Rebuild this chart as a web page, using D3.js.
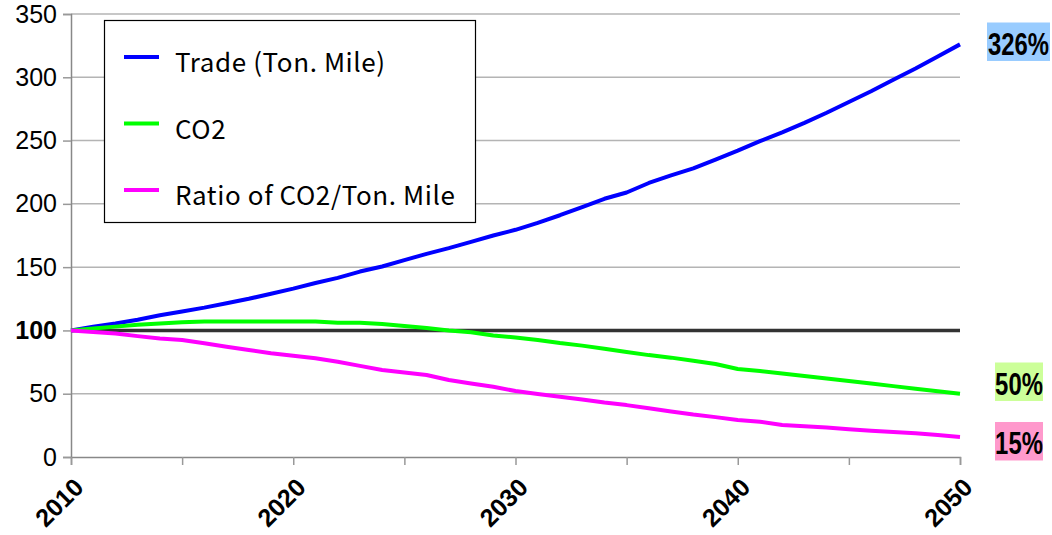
<!DOCTYPE html>
<html>
<head>
<meta charset="utf-8">
<script src="https://cdn.jsdelivr.net/npm/d3@7"></script>
<style>
html,body{margin:0;padding:0;background:#fff;}
svg{display:block;}
</style>
</head>
<body>
<svg id="chart" width="1052" height="535"></svg>
<script>
const years = d3.range(2010, 2051);
const trade = [100,103,105.5,108.5,112,115,118,121.5,125,129,133,137.5,141.5,146.5,150.5,155.5,160.5,165,170,175,179.5,185,191,197.5,204,209,216.5,222.5,228,235,242,249.5,256.5,264,272,280.5,289,298,307,316.5,326];
const co2 = [100,101.5,103,104.5,105.5,106.5,107,107,107,107,107,107,106,106,105,103.5,102,100,98.5,96,94.5,92.5,90,88,85.5,83,80.5,78.5,76,73.5,69.5,68,66,64,62,60,58,56,54,52,50];
const ratio = [100,98.8,97.6,95.5,93.7,92.4,89.8,87.1,84.5,82,80,78,75.3,72,68.7,66.8,64.8,60.8,58,55.5,52.1,49.8,47.6,45.5,43,41,38.5,36,33.5,31.5,29.2,27.9,25.3,24.3,23.4,22,20.8,19.7,18.7,17.3,15.8];
const yTicks = [0,50,100,150,200,250,300,350];
const xLabelYears = [2010,2020,2030,2040,2050];
const xTickYears = [2010,2015,2020,2025,2030,2035,2040,2045,2050];
const seriesNames = ["Trade (Ton. Mile)", "CO2", "Ratio of CO2/Ton. Mile"];
const seriesColors = ["#0000ff", "#00ff00", "#ff00ff"];
const endLabels = ["326%", "50%", "15%"];
const endLabelColors = ["#99ccff", "#ccff99", "#ff99cc"];
const baseline = 100;

const svg = d3.select("#chart");
const x = d3.scaleLinear().domain([2010, 2050]).range([71, 960]);
const y = d3.scaleLinear().domain([0, 350]).range([457, 14]);

// gridlines
svg.append("g").selectAll("line").data(yTicks.filter(d => d !== 0 && d !== baseline)).join("line")
  .attr("x1", x(2010)).attr("x2", x(2050))
  .attr("y1", d => y(d)).attr("y2", d => y(d))
  .attr("stroke", "#b4b4b4").attr("stroke-width", 1.5);

// y axis
const yAxis = svg.append("g").attr("transform", `translate(${x(2010)},0)`)
  .call(d3.axisLeft(y).tickValues(yTicks).tickSize(8).tickPadding(6));
yAxis.select(".domain").attr("stroke", "#888").attr("stroke-width", 1.5);
yAxis.selectAll(".tick line").attr("stroke", "#999").attr("stroke-width", 1.5);
yAxis.selectAll(".tick text")
  .attr("font-family", "'Liberation Sans', Arial, sans-serif")
  .attr("font-size", 25).attr("fill", "#000")
  .attr("font-weight", d => d === baseline ? "bold" : "normal");

// x axis
const xAxis = svg.append("g").attr("transform", `translate(0,${y(0)})`)
  .call(d3.axisBottom(x).tickValues(xTickYears).tickSize(8).tickFormat(""));
xAxis.select(".domain").attr("stroke", "#888").attr("stroke-width", 1.5);
xAxis.selectAll(".tick line").attr("stroke", "#999").attr("stroke-width", 1.5);
svg.append("g").selectAll("text").data(xLabelYears).join("text")
  .attr("transform", d => `translate(${x(d) + 14},${y(0) + 32}) rotate(-45)`)
  .attr("text-anchor", "end")
  .attr("font-family", "'Liberation Sans', Arial, sans-serif")
  .attr("font-weight", "bold").attr("font-size", 25).attr("fill", "#000")
  .text(d => d);

// baseline 100
svg.append("line")
  .attr("x1", x(2010)).attr("x2", x(2050))
  .attr("y1", y(baseline)).attr("y2", y(baseline))
  .attr("stroke", "#333").attr("stroke-width", 3.5);

// series
const line = d3.line().x((d, i) => x(years[i])).y(d => y(d));
[trade, co2, ratio].forEach((s, i) => {
  svg.append("path").datum(s)
    .attr("d", line).attr("fill", "none")
    .attr("stroke", seriesColors[i]).attr("stroke-width", 4)
    .attr("stroke-linejoin", "round");
});

// legend
const lg = svg.append("g");
lg.append("rect").attr("x", 104.5).attr("y", 20.5).attr("width", 371).attr("height", 202)
  .attr("fill", "#fff").attr("stroke", "#000").attr("stroke-width", 1.2);
const legY = [57, 123.5, 190];
seriesNames.forEach((n, i) => {
  lg.append("line").attr("x1", 124).attr("x2", 159).attr("y1", legY[i]).attr("y2", legY[i])
    .attr("stroke", seriesColors[i]).attr("stroke-width", 4);
  lg.append("text").attr("x", 175).attr("y", legY[i] + 15)
    .attr("font-family", "'Noto Sans CJK JP', sans-serif")
    .attr("font-size", 26).attr("letter-spacing", 0.6).attr("fill", "#000").text(n);
});

// end labels
const endBox = [
  {x: 987, y: 22.5, w: 63, h: 38.5},
  {x: 995, y: 362.5, w: 48, h: 38.5},
  {x: 995, y: 422, w: 48, h: 38.5}
];
endLabels.forEach((t, i) => {
  const b = endBox[i];
  svg.append("rect").attr("x", b.x).attr("y", b.y).attr("width", b.w).attr("height", b.h)
    .attr("fill", endLabelColors[i]);
  svg.append("text")
    .attr("transform", `translate(${b.x + b.w / 2},${b.y + 32}) scale(0.77,1)`)
    .attr("text-anchor", "middle")
    .attr("font-family", "'Liberation Sans', sans-serif")
    .attr("font-weight", "bold").attr("font-size", 31).attr("fill", "#000")
    .text(t);
});
</script>
</body>
</html>
